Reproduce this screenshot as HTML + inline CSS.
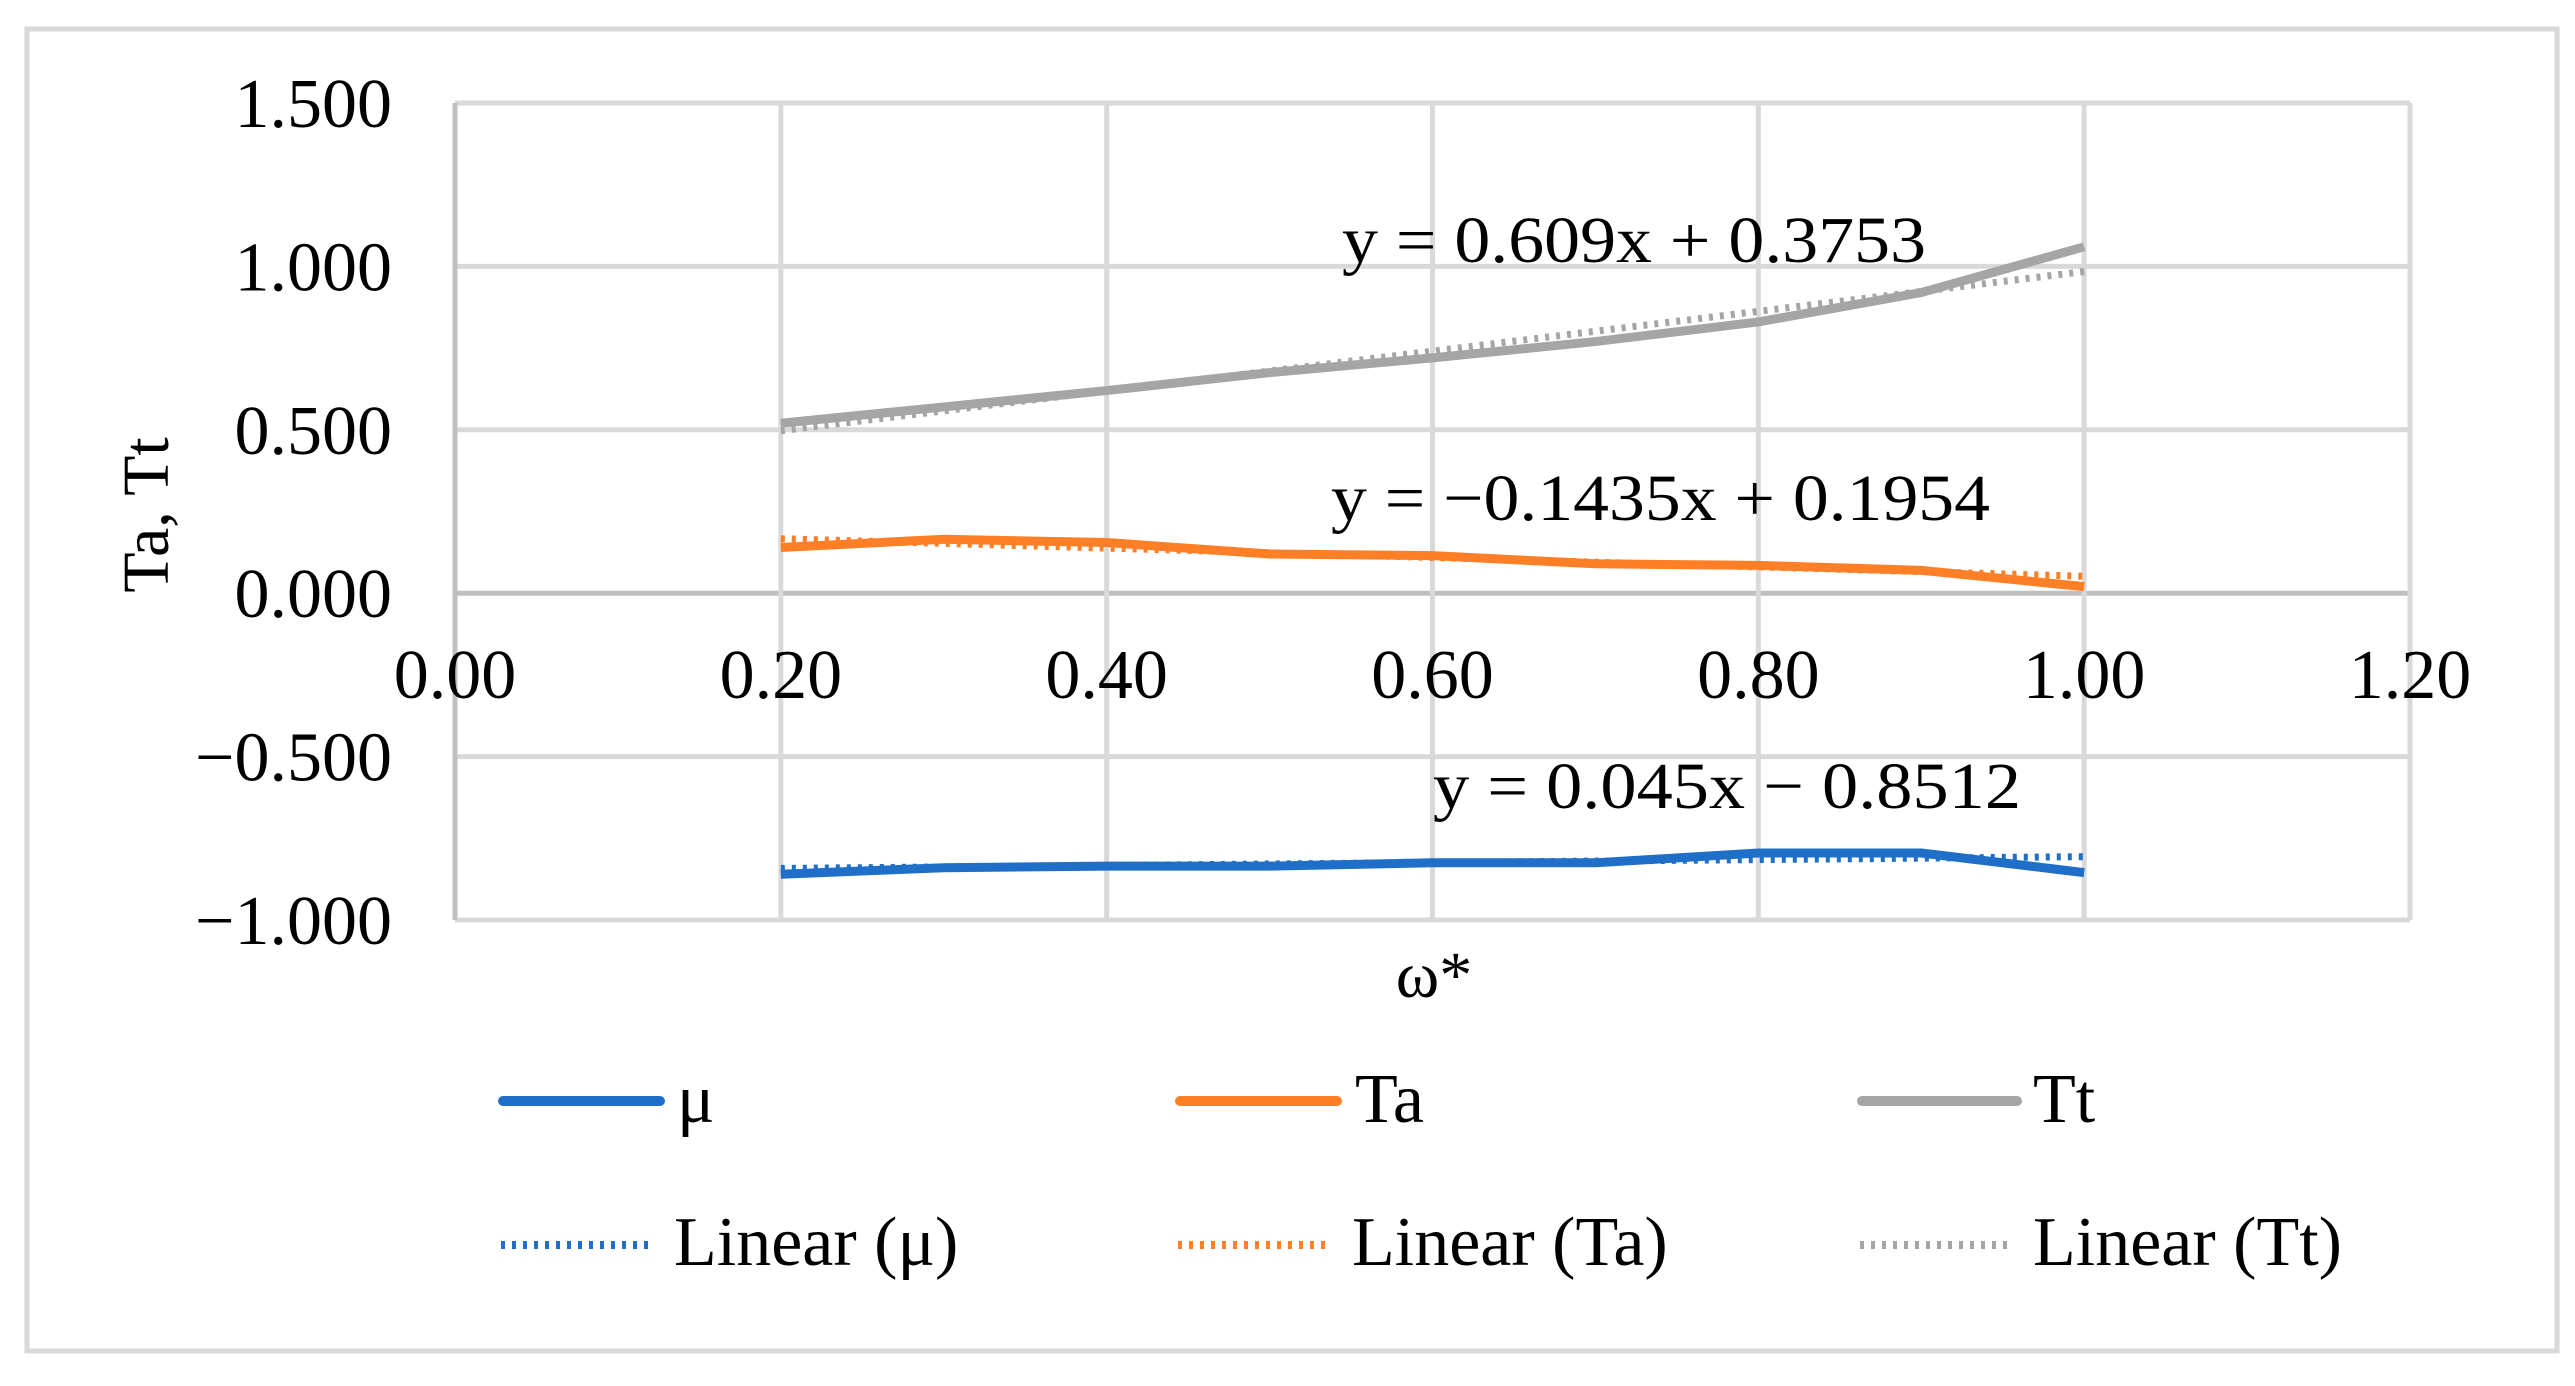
<!DOCTYPE html>
<html><head><meta charset="utf-8"><style>
html,body{margin:0;padding:0;background:#fff;}
svg{display:block;font-family:"Liberation Serif",serif;}
</style></head><body>
<svg id="chart" width="2575" height="1386" viewBox="0 0 2575 1386" xmlns="http://www.w3.org/2000/svg">
<rect x="27" y="29" width="2530" height="1322" fill="#fff" stroke="#d9d9d9" stroke-width="5"/>
<g id="grid"></g>
<g id="series"></g>
<g id="labels" font-size="70" fill="#000"></g>
<text transform="translate(168,515) rotate(-90)" text-anchor="middle" font-size="66">Ta, Tt</text>
<text x="1434" y="997" text-anchor="middle" font-size="66">ω*</text>
<text x="1342" y="262" font-size="66" textLength="584" lengthAdjust="spacingAndGlyphs">y = 0.609x + 0.3753</text>
<text x="1331" y="520" font-size="66" textLength="659" lengthAdjust="spacingAndGlyphs">y = −0.1435x + 0.1954</text>
<text x="1433" y="808" font-size="66" textLength="588" lengthAdjust="spacingAndGlyphs">y = 0.045x − 0.8512</text>
<g id="legend" font-size="70">
  <g>
    <line x1="503" y1="1101" x2="660" y2="1101" stroke="#1f6fc8" stroke-width="10" stroke-linecap="round"/>
    <text x="677" y="1122">μ</text></g>
  <g>
    <line x1="1180" y1="1101" x2="1337" y2="1101" stroke="#ff7f27" stroke-width="10" stroke-linecap="round"/>
    <text x="1355" y="1122">Ta</text></g>
  <g>
    <line x1="1862" y1="1101" x2="2017" y2="1101" stroke="#a5a5a5" stroke-width="10" stroke-linecap="round"/>
    <text x="2033" y="1122">Tt</text></g>
  <g>
    <line x1="501" y1="1245" x2="652" y2="1245" stroke="#1f6fc8" stroke-width="8" stroke-dasharray="4 7"/>
    <text x="674" y="1265">Linear (μ)</text></g>
  <g>
    <line x1="1178" y1="1245" x2="1329" y2="1245" stroke="#ff7f27" stroke-width="8" stroke-dasharray="4 7"/>
    <text x="1352" y="1265">Linear (Ta)</text></g>
  <g>
    <line x1="1860" y1="1245" x2="2011" y2="1245" stroke="#a5a5a5" stroke-width="8" stroke-dasharray="4 7"/>
    <text x="2033" y="1265">Linear (Tt)</text></g>
</g>
</svg>
<script>
const xCategories = [0.2,0.3,0.4,0.5,0.6,0.7,0.8,0.9,1.0];
const muValues = [-0.86,-0.84,-0.835,-0.835,-0.825,-0.825,-0.795,-0.795,-0.855];
const taValues = [0.14,0.165,0.155,0.12,0.115,0.09,0.085,0.07,0.02];
const ttValues = [0.52,0.57,0.62,0.675,0.72,0.77,0.83,0.92,1.06];
const trendSlopes = [0.045,-0.1435,0.609];
const trendIntercepts = [-0.8512,0.1954,0.3753];
const xTicks = [0,0.2,0.4,0.6,0.8,1.0,1.2];
const xTickLabels = ["0.00","0.20","0.40","0.60","0.80","1.00","1.20"];
const yTicks = [1.5,1.0,0.5,0,-0.5,-1.0];
const yTickLabels = ["1.500","1.000","0.500","0.000","−0.500","−1.000"];

const NS="http://www.w3.org/2000/svg";
const X0=455,X1=2410,Y0=920,Y1=103;
function xs(v){return X0+(v-0)/(1.2-0)*(X1-X0);}
function ys(v){return Y0-(v+1)/(2.5)*(Y0-Y1);}
function mk(tag,attrs,parent){const e=document.createElementNS(NS,tag);for(const k in attrs)e.setAttribute(k,attrs[k]);parent.appendChild(e);return e;}
const grid=document.getElementById('grid'),series=document.getElementById('series'),labels=document.getElementById('labels');

yTicks.forEach((t,i)=>{
  const l=mk('line',{x1:X0,x2:X1,y1:ys(t),y2:ys(t),stroke:t===0?'#bfbfbf':'#d9d9d9','stroke-width':5},grid);
  
  
  const tx=mk('text',{x:392,y:ys(t)+24,'text-anchor':'end'},labels);
  tx.textContent=yTickLabels[i];
  
  
});
xTicks.forEach((t,i)=>{
  const l=mk('line',{x1:xs(t),x2:xs(t),y1:Y1,y2:Y0,stroke:i===0?'#bfbfbf':'#d9d9d9','stroke-width':5},grid);
  
  
  const tx=mk('text',{x:xs(t),y:698,'text-anchor':'middle'},labels);
  tx.textContent=xTickLabels[i];
  
  
});

const colors=['#1f6fc8','#ff7f27','#a5a5a5'];
const names=['mu','ta','tt'];
[muValues,taValues,ttValues].forEach((vals,si)=>{
  const xa=xCategories[0],xb=xCategories[xCategories.length-1];
  const tl=mk('line',{x1:xs(xa),y1:ys(trendSlopes[si]*xa+trendIntercepts[si]),x2:xs(xb),y2:ys(trendSlopes[si]*xb+trendIntercepts[si]),stroke:colors[si],'stroke-width':7,'stroke-dasharray':'4 7'},series);
  
  
  const pts=vals.map((v,i)=>xs(xCategories[i])+','+ys(v)).join(' ');
  const pl=mk('polyline',{points:pts,fill:'none',stroke:colors[si],'stroke-width':9,'stroke-linejoin':'round'},series);
  
  
});
</script>
</body></html>
